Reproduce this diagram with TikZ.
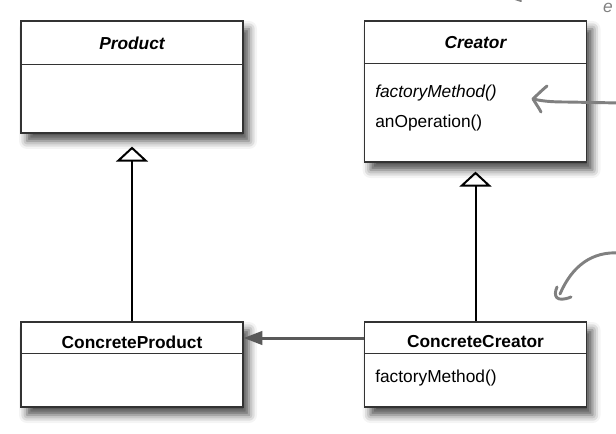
\documentclass[tikz,border=0pt]{standalone}
\usepackage{fontspec}
\setmainfont{Liberation Sans}
\usetikzlibrary{arrows.meta,shadows.blur}
\tikzset{
  classbox/.style={draw=black!80, line width=0.9pt, fill=white, minimum width=166.5pt, inner sep=0pt,
    blur shadow={shadow xshift=4.5pt, shadow yshift=-6pt, shadow blur radius=6pt, shadow opacity=70}},
  classname/.style={font=\fontsize{13}{15}\selectfont\bfseries, inner sep=0pt},
  method/.style={font=\fontsize{13}{15}\selectfont, anchor=west, inner sep=0pt},
  divider/.style={draw=black!80, line width=0.9pt},
  inherit/.style={line width=1.5pt, -{Triangle[open, length=11.25pt, width=24pt]}},
  assoc/.style={draw=black!65, line width=2.25pt, -{Triangle[length=14pt, width=10pt]}},
  scribble/.style={draw=black!50, line width=2.2pt, line cap=round, line join=round}
}
\begin{document}
\begin{tikzpicture}[x=0.75pt,y=-0.75pt]
    \useasboundingbox (0,0) rectangle (616,434);

    \node[classbox, minimum height=84pt] (product) at (132,77) {};
    \node[classbox, minimum height=105.75pt] (creator) at (475.5,91.5) {};
    \node[classbox, minimum height=63.75pt] (cproduct) at (132,364.5) {};
    \node[classbox, minimum height=63.75pt] (ccreator) at (475.5,364.5) {};

    \draw[divider] ([yshift=-33pt]product.north west) -- ([yshift=-33pt]product.north east);
    \draw[divider] ([yshift=-32.25pt]creator.north west) -- ([yshift=-32.25pt]creator.north east);
    \draw[divider] ([yshift=-24pt]cproduct.north west) -- ([yshift=-24pt]cproduct.north east);
    \draw[divider] ([yshift=-24pt]ccreator.north west) -- ([yshift=-24pt]ccreator.north east);

    \node[classname] (productname) at (132,43) {\itshape Product};
    \node[classname] (creatorname) at (475.5,43) {\itshape Creator};
    \node[classname] (cproductname) at (132,342) {ConcreteProduct};
    \node[classname] (ccreatorname) at (475.5,342) {ConcreteCreator};

    \node[method] (creatorfactory) at (375,93) {\itshape factoryMethod()};
    \node[method] (creatoroperation) at (375,123) {anOperation()};
    \node[method] (ccreatorfactory) at (375,378) {factoryMethod()};

    \draw[inherit] (cproduct.north) -- ([yshift=-9.75pt]product.south);
    \draw[inherit] (ccreator.north) -- ([yshift=-6.75pt]creator.south);
    \draw[assoc] ([yshift=19.875pt]ccreator.west) -- ([yshift=19.875pt]cproduct.east);

    \coordinate (noteA) at (620,103);
    \coordinate (tipA) at (533,99);
    \draw[scribble] (noteA) -- (566,102) .. controls (550,102) and (542,101) .. (tipA);
    \draw[scribble] (547,86) .. controls (540,92) and (536,96) .. (tipA) .. controls (536,104) and (539,108) .. (541,112);

    \coordinate (noteB) at (620,253);
    \coordinate (tipB) at (560,294);
    \draw[scribble] (noteB) .. controls (592,251) and (572,266) .. (tipB);
    \draw[scribble] (557,287) .. controls (553,296) and (556,303) .. (571,297);

    \node[text=black!50, font=\fontsize{13}{13}\selectfont\itshape] (noteC) at (608,8) {e};
    \draw[scribble, line width=1.5pt] (515,-1) -- (521,1);
\end{tikzpicture}
\end{document}
